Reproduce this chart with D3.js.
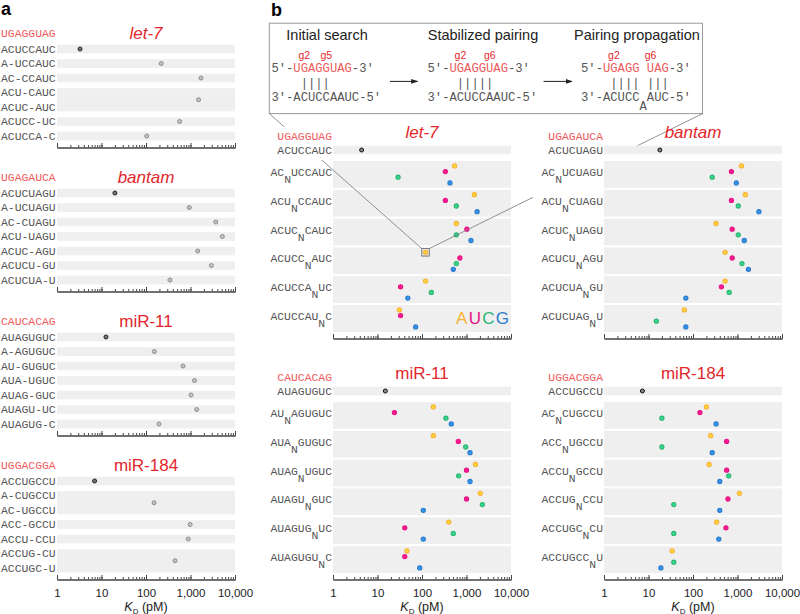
<!DOCTYPE html>
<html>
<head>
<meta charset="utf-8">
<script src="https://cdn.jsdelivr.net/npm/d3@7"></script>
<style>
  body { margin: 0; background: #fff; }
  svg { display: block; }
</style>
</head>
<body>
<div id="chart"></div>
<script>
// ---------- data ----------
const kdTicks = [1, 10, 100, 1000, 10000];
const nucs = ["A", "U", "C", "G"];
const nucColors = ["#f9b233", "#e5147f", "#2db573", "#2a7bc9"];

// panel a: single-nt deletions (a row with two labels = same resulting site)
const aLet7Guide = "UGAGGUAG";
const aLet7Labels = [["ACUCCAUC"], ["A-UCCAUC"], ["AC-CCAUC"], ["ACU-CAUC", "ACUC-AUC"], ["ACUCC-UC"], ["ACUCCA-C"]];
const aLet7KD = [3.3, 220, 1720, 1520, 570, 104];

const aBantamGuide = "UGAGAUCA";
const aBantamLabels = [["ACUCUAGU"], ["A-UCUAGU"], ["AC-CUAGU"], ["ACU-UAGU"], ["ACUC-AGU"], ["ACUCU-GU"], ["ACUCUA-U"]];
const aBantamKD = [20, 940, 3700, 5200, 1450, 2950, 345];

const aMiR11Guide = "CAUCACAG";
const aMiR11Labels = [["AUAGUGUC"], ["A-AGUGUC"], ["AU-GUGUC"], ["AUA-UGUC"], ["AUAG-GUC"], ["AUAGU-UC"], ["AUAGUG-C"]];
const aMiR11KD = [12.6, 154, 680, 1230, 1030, 1380, 195];

const aMiR184Guide = "UGGACGGA";
const aMiR184Labels = [["ACCUGCCU"], ["A-CUGCCU", "AC-UGCCU"], ["ACC-GCCU"], ["ACCU-CCU"], ["ACCUG-CU", "ACCUGC-U"]];
const aMiR184KD = [7.0, 152, 980, 890, 450];

// panel b: single-nt insertions, "|" marks where N goes; values ordered A,U,C,G
const bLet7Site = "ACUCCAUC", bLet7WT = 4.4;
const bLet7Labels = ["AC|UCCAUC", "ACU|CCAUC", "ACUC|CAUC", "ACUCC|AUC", "ACUCCA|UC", "ACUCCAU|C"];
const bLet7KD = [[540, 335, 29, 425], [1500, 335, 590, 1730], [590, 1020, 590, 1260],
                 [120, 710, 590, 505], [120, 33, 162, 48], [31, 33, null, 72]];

const bBantamSite = "ACUCUAGU", bBantamWT = 18;
const bBantamLabels = ["AC|UCUAGU", "ACU|CUAGU", "ACUC|UAGU", "ACUCU|AGU", "ACUCUA|GU", "ACUCUAG|U"];
const bBantamKD = [[1230, 730, 270, 940], [1500, 730, 1040, 3030], [330, 760, 1040, 1420],
                   [525, 760, 1260, 1760], [525, 435, 650, 69], [64, null, 15, 69]];

const bMiR11Site = "AUAGUGUC", bMiR11WT = 15;
const bMiR11Labels = ["AU|AGUGUC", "AUA|GUGUC", "AUAG|UGUC", "AUAGU|GUC", "AUAGUG|UC", "AUAGUGU|C"];
const bMiR11KD = [[180, 24, 345, 455], [180, 655, 960, 1200], [1590, 1000, 665, 1200],
                  [2040, 1000, 2270, 107], [400, 41, 505, 107], [46, 41, null, 89]];

const bMiR184Site = "ACCUGCCU", bMiR184WT = 7.3;
const bMiR184Labels = ["AC|CUGCCU", "ACC|UGCCU", "ACCU|GCCU", "ACCUG|CCU", "ACCUGC|CU", "ACCUGCC|U"];
const bMiR184KD = [[200, 143, 20, 330], [250, 570, 20, 270], [230, 570, 635, 400],
                   [1100, 610, 37, 400], [340, 550, 37, 380], [34, null, 37, 19]];

// schematic
const stageTitles = ["Initial search", "Stabilized pairing", "Pairing propagation"];
const stageGuide = ["UGAGGUAG", "UGAGGUAG", "UGAGG UAG"];
const stageTarget = [["ACUCCAAUC"], ["ACUCCAAUC"], ["ACUCC", "A", "AUC"]];
const stageMarks = [[["g2", 4], ["g5", 7]], [["g2", 4], ["g6", 8]], [["g2", 4], ["g6", 9]]];
const stageBars = [[["||||", 4]], [["|||||", 4]], [["||||", 4], ["|||", 9]]];

// ---------- setup ----------
const W = 800, H = 614;
const SANS = "'Liberation Sans', Arial, Helvetica, sans-serif";
const MONO = "'Liberation Mono', 'Courier New', monospace";
const RED = "#e3262c", GUIDE_RED = "#f05a5a", LABEL = "#555", BAND = "#efefef";
const dotOffsets = [-8.5, -2.8, 2.8, 8.5];

const svg = d3.select("#chart").append("svg")
  .attr("width", W).attr("height", H)
  .style("font-family", SANS);

function kdAxis(g, x, y, withLabels) {
  const minor = g.append("g").attr("transform", `translate(0,${y})`)
    .call(d3.axisBottom(x).tickValues(x.ticks()).tickSize(-2.5).tickSizeOuter(0).tickFormat(""));
  const major = g.append("g").attr("transform", `translate(0,${y})`)
    .call(d3.axisBottom(x).tickValues(kdTicks).tickSize(-4.5).tickSizeOuter(0)
      .tickPadding(9).tickFormat(withLabels ? d3.format(",") : ""));
  [minor, major].forEach(a => {
    a.select(".domain").attr("stroke", "#444");
    a.selectAll(".tick line").attr("stroke", "#444");
  });
  major.selectAll("text").attr("font-family", SANS).attr("font-size", 11.5).attr("fill", "#222");
  if (withLabels) {
    const t = g.append("text")
      .attr("x", d3.mean(x.range())).attr("y", y + 31.5)
      .attr("text-anchor", "middle").attr("font-size", 12.5).attr("fill", "#222");
    t.append("tspan").attr("font-style", "italic").text("K");
    t.append("tspan").attr("font-size", 8).attr("dy", 2.5).text("D");
    t.append("tspan").attr("dy", -2.5).text(" (pM)");
  }
}

function title(g, cx, y, name, italic) {
  g.append("text").attr("x", cx).attr("y", y)
    .attr("text-anchor", "middle").attr("font-size", 17)
    .attr("font-style", italic ? "italic" : "normal")
    .attr("fill", RED).text(name);
}

// ---------- panel a ----------
function panelA(p) {
  const g = svg.append("g");
  const x = d3.scaleLog().domain([1, 10000]).range([57, 235]);
  const [xl, xr] = x.range();
  let line = 0;
  const rows = p.labels.map((labs, i) => {
    const ys = labs.map((_, j) => p.row1 + (line + j) * 14.5);
    line += labs.length;
    return { labs, ys, kd: p.kd[i], wt: i === 0 };
  });

  g.selectAll("rect.band").data(rows).join("rect").attr("class", "band")
    .attr("x", xl).attr("width", xr - xl)
    .attr("y", d => d.ys[0] - 4.3)
    .attr("height", d => d.ys[d.ys.length - 1] - d.ys[0] + 8.6)
    .attr("fill", BAND);

  rows.forEach(r => r.labs.forEach((l, j) => {
    g.append("text").attr("x", 1).attr("y", r.ys[j] + 3.9)
      .attr("font-family", MONO).attr("font-size", 11.4).attr("fill", LABEL).text(l);
  }));

  g.selectAll("circle").data(rows).join("circle")
    .attr("cx", d => x(d.kd)).attr("cy", d => d3.mean(d.ys)).attr("r", 2)
    .attr("fill", d => d.wt ? "#777" : "#c4c4c4")
    .attr("stroke", d => d.wt ? "#222" : "#8c8c8c").attr("stroke-width", 1);

  g.append("text").attr("x", 1).attr("y", p.row1 - 11.7)
    .attr("font-family", MONO).attr("font-size", 11.4).attr("fill", GUIDE_RED).text(p.guide);
  title(g, d3.mean(x.range()), p.row1 - 9.9, p.name, p.italic);

  kdAxis(g, x, p.row1 + 98.5, p.axisLabels);
}

// ---------- panel b ----------
function bGeom(p) {
  const x = d3.scaleLog().domain([1, 10000]).range([p.x0, p.x0 + 178]);
  const bandTop = i => p.row1 + 11 + i * 28.8;
  return { x, bandTop };
}

function panelBMarks(p) {
  const g = svg.append("g");
  const { x, bandTop } = bGeom(p);
  const [xl, xr] = x.range();
  if (p.whiteBg) {
    g.append("rect").attr("x", xl - 71).attr("y", p.row1 - 4.3)
      .attr("width", xr - xl + 80).attr("height", 200).attr("fill", "#fff");
  }
  g.append("rect").attr("x", xl).attr("width", xr - xl)
    .attr("y", p.row1 - 4.3).attr("height", 8.6).attr("fill", BAND);
  g.selectAll("rect.mut").data(p.labels).join("rect").attr("class", "mut")
    .attr("x", xl).attr("width", xr - xl)
    .attr("y", (d, i) => bandTop(i)).attr("height", 26.8).attr("fill", BAND);

  g.append("circle").attr("cx", x(p.wt)).attr("cy", p.row1).attr("r", 2)
    .attr("fill", "#888").attr("stroke", "#111").attr("stroke-width", 1);

  const pts = p.kd.flatMap((vals, i) => vals.map((v, k) => ({ v, k, i })))
    .filter(d => d.v != null);
  g.selectAll("circle.n").data(pts).join("circle").attr("class", "n")
    .attr("cx", d => x(d.v))
    .attr("cy", d => bandTop(d.i) + 13.4 + dotOffsets[d.k])
    .attr("r", 2.1)
    .attr("fill", d => d3.color(nucColors[d.k]).brighter(0.5))
    .attr("stroke", d => nucColors[d.k]).attr("stroke-width", 1.1);

  kdAxis(g, x, p.row1 + 188.5, p.axisLabels);

  if (p.legend) {
    const t = g.append("text").attr("x", xr - 55).attr("y", bandTop(5) + 18.5)
      .attr("font-size", 17).attr("letter-spacing", 1.3);
    nucs.forEach((n, k) => t.append("tspan").attr("fill", nucColors[k]).text(n));
  }
}

function panelBLabels(p) {
  const g = svg.append("g");
  const { x, bandTop } = bGeom(p);
  const xl = x.range()[0];
  if (p.labelBg) {
    g.append("rect").attr("x", xl - 62).attr("y", p.row1 - 23)
      .attr("width", 62).attr("height", 33).attr("fill", "#fff");
  }
  const mono = s => s.attr("font-family", MONO).attr("font-size", 11.4).attr("text-anchor", "end");

  mono(g.append("text")).attr("x", xl - 1).attr("y", p.row1 - 10.5).attr("fill", GUIDE_RED).text(p.guide);
  mono(g.append("text")).attr("x", xl - 1).attr("y", p.row1 + 3.9).attr("fill", LABEL).text(p.site);

  p.labels.forEach((l, i) => {
    const [pre, post] = l.split("|");
    const t = mono(g.append("text")).attr("x", xl - 1).attr("y", bandTop(i) + 15).attr("fill", LABEL);
    t.append("tspan").text(pre);
    t.append("tspan").attr("dy", 7).text("N");
    t.append("tspan").attr("dy", -7).text(post);
  });

  title(g, d3.mean(x.range()), p.row1 - 11.6, p.name, p.italic);
}

// ---------- draw ----------
svg.append("text").attr("x", 1).attr("y", 15).attr("font-size", 18).attr("font-weight", "bold").text("a");
svg.append("text").attr("x", 271).attr("y", 16).attr("font-size", 18).attr("font-weight", "bold").text("b");

panelA({ name: "let-7", italic: true, guide: aLet7Guide, labels: aLet7Labels, kd: aLet7KD, row1: 49, axisLabels: false });
panelA({ name: "bantam", italic: true, guide: aBantamGuide, labels: aBantamLabels, kd: aBantamKD, row1: 193, axisLabels: false });
panelA({ name: "miR-11", italic: false, guide: aMiR11Guide, labels: aMiR11Labels, kd: aMiR11KD, row1: 337, axisLabels: false });
panelA({ name: "miR-184", italic: false, guide: aMiR184Guide, labels: aMiR184Labels, kd: aMiR184KD, row1: 481, axisLabels: true });

// schematic box
const box = { x: 269.3, y: 23.2, w: 433.2, h: 90.4 };
const stageX = [271.4, 427.5, 581];
const stageHeadX = [327, 483, 637];
const cw = 0.6 * 12.2;
const sg = svg.append("g");
sg.append("rect").attr("x", box.x).attr("y", box.y).attr("width", box.w).attr("height", box.h)
  .attr("fill", "none").attr("stroke", "#999");
sg.append("defs").append("marker").attr("id", "arr").attr("viewBox", "0 0 10 10")
  .attr("refX", 9).attr("refY", 5).attr("markerWidth", 7).attr("markerHeight", 7)
  .attr("orient", "auto").append("path").attr("d", "M0,1.5L10,5L0,8.5Z").attr("fill", "#222");
[[390, 417.5], [543.6, 572]].forEach(([a, b]) => {
  sg.append("line").attr("x1", a).attr("x2", b).attr("y1", 81.4).attr("y2", 81.4)
    .attr("stroke", "#222").attr("stroke-width", 1).attr("marker-end", "url(#arr)");
});
stageTitles.forEach((s, i) => {
  const x0 = stageX[i];
  sg.append("text").attr("x", stageHeadX[i]).attr("y", 40).attr("text-anchor", "middle")
    .attr("font-size", 14.5).attr("fill", "#222").text(s);
  stageMarks[i].forEach(([m, idx]) => {
    sg.append("text").attr("x", x0 + (idx + 0.5) * cw).attr("y", 59.2).attr("text-anchor", "middle")
      .attr("font-family", "'Liberation Sans Narrow', " + SANS).attr("font-size", 10.5)
      .attr("fill", RED).text(m);
  });
  const top = sg.append("text").attr("x", x0).attr("y", 72.1)
    .attr("font-family", MONO).attr("font-size", 12.2).attr("fill", "#555")
    .style("white-space", "pre");
  top.append("tspan").text("5\u2032-");
  top.append("tspan").attr("fill", GUIDE_RED).text(stageGuide[i]);
  top.append("tspan").text("-3\u2032");
  stageBars[i].forEach(([b, idx]) => {
    sg.append("text").attr("x", x0 + idx * cw).attr("y", 86.6)
      .attr("font-family", MONO).attr("font-size", 12.2).attr("fill", "#555").text(b);
  });
  const bot = sg.append("text").attr("x", x0).attr("y", 100.6)
    .attr("font-family", MONO).attr("font-size", 12.2).attr("fill", "#555");
  const parts = stageTarget[i];
  bot.append("tspan").text("3\u2032-" + parts[0]);
  if (parts.length > 1) {
    bot.append("tspan").attr("dy", 9).text(parts[1]);
    bot.append("tspan").attr("dy", -9).text(parts[2] + "-5\u2032");
  } else {
    bot.append("tspan").text("-5\u2032");
  }
});

const let7 = { name: "let-7", italic: true, guide: aLet7Guide, site: bLet7Site, wt: bLet7WT,
  labels: bLet7Labels, kd: bLet7KD, x0: 333, row1: 150, axisLabels: false, legend: true, labelBg: true };
const bantam = { name: "bantam", italic: true, guide: aBantamGuide, site: bBantamSite, wt: bBantamWT,
  labels: bBantamLabels, kd: bBantamKD, x0: 604, row1: 150, axisLabels: false, whiteBg: true };
const mir11 = { name: "miR-11", italic: false, guide: aMiR11Guide, site: bMiR11Site, wt: bMiR11WT,
  labels: bMiR11Labels, kd: bMiR11KD, x0: 333, row1: 391, axisLabels: true };
const mir184 = { name: "miR-184", italic: false, guide: aMiR184Guide, site: bMiR184Site, wt: bMiR184WT,
  labels: bMiR184Labels, kd: bMiR184KD, x0: 604, row1: 391, axisLabels: true };

panelBMarks(let7);

// zoom square around the let-7 ACUCC(A)AUC point and connectors to the schematic
{
  const { x, bandTop } = bGeom(let7);
  const cx = x(bLet7KD[3][0]), cy = bandTop(3) + 13.4 + dotOffsets[0];
  const s = 7.5;
  const cg = svg.append("g").attr("stroke", "#777").attr("fill", "none");
  cg.append("line").attr("x1", box.x).attr("y1", box.y + box.h).attr("x2", cx - s / 2).attr("y2", cy - s / 2).attr("stroke-width", 0.8);
  cg.append("line").attr("x1", box.x + box.w).attr("y1", box.y + box.h).attr("x2", cx + s / 2).attr("y2", cy - s / 2).attr("stroke-width", 0.8);
  cg.append("rect").attr("x", cx - s / 2).attr("y", cy - s / 2).attr("width", s).attr("height", s).attr("stroke-width", 1);
}

panelBLabels(let7);
panelBMarks(bantam);
panelBLabels(bantam);
panelBMarks(mir11);
panelBLabels(mir11);
panelBMarks(mir184);
panelBLabels(mir184);
</script>
</body>
</html>
